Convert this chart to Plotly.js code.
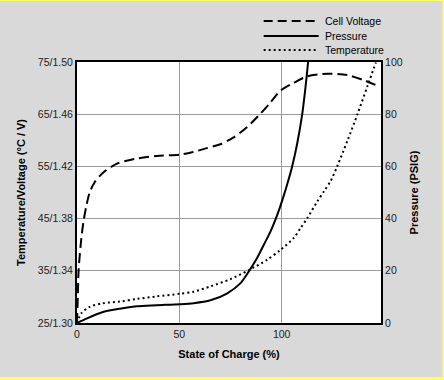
<!DOCTYPE html>
<html>
<head>
<meta charset="utf-8">
<script src="https://cdn.plot.ly/plotly-3.0.1.min.js"></script>
<style>html,body{margin:0;padding:0;background:#d9d9d9;}#chart{width:444px;height:380px;}</style>
</head>
<body>
<div id="chart"></div>
<script>
// State of charge (%)
const voltageSoc = [0, 0.4, 0.8, 2.2, 3.3, 4.6, 6.2, 8.7, 12.6, 19.3, 29.1, 38.9, 50.3, 56.7, 63.4, 70, 76.3, 83, 89.4, 94.5, 99.4, 105.9, 112.5, 122.3, 132.1, 140.2, 146.4];
// Cell voltage (V)
const voltageValues = [1.300, 1.320, 1.341, 1.366, 1.379, 1.390, 1.400, 1.408, 1.415, 1.422, 1.426, 1.428, 1.429, 1.431, 1.434, 1.437, 1.442, 1.450, 1.460, 1.469, 1.478, 1.484, 1.489, 1.491, 1.490, 1.486, 1.482];

const pressureSoc = [0, 4.6, 12.7, 20.9, 29.1, 38.9, 50.3, 57, 65.2, 73.2, 79.8, 83.8, 87.9, 91.2, 94.5, 98, 101, 103, 105.1, 107.5, 110, 111.6, 112.9];
// Pressure (PSIG)
const pressureValues = [0, 1.7, 4.2, 5.5, 6.4, 6.8, 7.2, 7.6, 8.7, 11.3, 15.2, 19.6, 24.8, 29.9, 35, 41.8, 48.8, 54, 60, 68.5, 79.9, 90.2, 100];

const temperatureSoc = [0, 2.2, 6.2, 12.7, 20.9, 29.1, 38.9, 50.3, 57, 65.1, 74.9, 83.8, 92.8, 99.4, 105.9, 109.2, 112.5, 117.4, 120.6, 123.9, 127.2, 132.1, 137, 141.9, 146];
// Temperature (°C)
const temperatureValues = [25, 26.9, 28.1, 28.8, 29.1, 29.6, 30.1, 30.6, 31, 32, 33.4, 35.1, 37.1, 39, 41.3, 43.2, 45.1, 48.3, 50.2, 52.2, 55.1, 59.9, 65, 70.4, 74.9];

const leftTickVals = [25, 35, 45, 55, 65, 75];
const leftTickText = ["25/1.30", "35/1.34", "45/1.38", "55/1.42", "65/1.46", "75/1.50"];
const rightTickVals = [0, 20, 40, 60, 80, 100];
const xTickVals = [0, 50, 100];

const seriesNames = ["Cell Voltage", "Pressure", "Temperature"];

const FONT = "Liberation Sans, Arial, sans-serif";

const traces = [
  {x: voltageSoc, y: voltageValues, yaxis: "y3", name: seriesNames[0], mode: "lines",
   line: {color: "#000", width: 2, dash: "10px,5px", shape: "spline", smoothing: 0.8}},
  {x: pressureSoc, y: pressureValues, yaxis: "y2", name: seriesNames[1], mode: "lines",
   line: {color: "#000", width: 2, shape: "spline", smoothing: 0.8}},
  {x: temperatureSoc, y: temperatureValues, yaxis: "y", name: seriesNames[2], mode: "lines",
   line: {color: "#000", width: 2, dash: "2px,3px", shape: "spline", smoothing: 0.8}}
];

// custom legend (paper coordinates)
const legendShapes = [];
const legendAnns = [];
const dashes = ["9px,5px", "solid", "2px,3px"];
const legendY = [1.157, 1.100, 1.046];
for (let i = 0; i < 3; i++) {
  legendShapes.push({type: "line", xref: "paper", yref: "paper", x0: 0.614, x1: 0.795, y0: legendY[i], y1: legendY[i],
    line: {color: "#000", width: 2, dash: dashes[i]}});
  legendAnns.push({xref: "paper", yref: "paper", x: 0.808, y: legendY[i], xanchor: "left", yanchor: "middle",
    text: seriesNames[i], showarrow: false, font: {family: FONT, size: 10.5, color: "#000"}});
}

const layout = {
  width: 444, height: 380,
  margin: {l: 77, r: 63, t: 62, b: 57},
  paper_bgcolor: "#d9d9d9",
  plot_bgcolor: "#ffffff",
  showlegend: false,
  font: {family: FONT, size: 11, color: "#222"},
  xaxis: {
    range: [0, 148.5], tickvals: xTickVals, ticks: "", showline: true, linecolor: "#000", linewidth: 2, mirror: true,
    showgrid: true, gridcolor: "#9a9a9a", gridwidth: 1, zeroline: false,
    tickfont: {family: FONT, size: 10.5, color: "#222"},
    title: {text: "<b>State of Charge (%)</b>", font: {family: FONT, size: 11, color: "#000"}, standoff: 12}
  },
  yaxis: {
    range: [25, 75], tickvals: leftTickVals, ticktext: leftTickText, ticks: "", showline: true, linecolor: "#000", linewidth: 2,
    showgrid: true, gridcolor: "#9a9a9a", gridwidth: 1, zeroline: false,
    tickfont: {family: FONT, size: 10.5, color: "#222"},
    title: {text: "<b>Temperature/Voltage (°C / V)</b>", font: {family: FONT, size: 11, color: "#000"}, standoff: 10}
  },
  yaxis2: {
    range: [0, 100], tickvals: rightTickVals, overlaying: "y", side: "right", ticks: "", showline: true, linecolor: "#000", linewidth: 2,
    showgrid: false, zeroline: false,
    tickfont: {family: FONT, size: 10.5, color: "#222"},
    title: {text: "<b>Pressure (PSIG)</b>", font: {family: FONT, size: 11, color: "#000"}, standoff: 9}
  },
  yaxis3: {range: [1.30, 1.50], overlaying: "y", visible: false},
  shapes: legendShapes.concat([
    {type: "line", xref: "paper", yref: "paper", x0: -0.26, x1: 1.22, y0: 1.2375, y1: 1.2375, line: {color: "#ffff66", width: 2}},
    {type: "line", xref: "paper", yref: "paper", x0: -0.26, x1: 1.22, y0: -0.2125, y1: -0.2125, line: {color: "#ffff66", width: 3}},
    {type: "line", xref: "paper", yref: "paper", x0: 1.2055, x1: 1.2055, y0: -0.22, y1: 1.24, line: {color: "#ffff66", width: 2}}
  ]),
  annotations: legendAnns
};

Plotly.newPlot("chart", traces, layout, {displayModeBar: false, staticPlot: true});
</script>
</body>
</html>
